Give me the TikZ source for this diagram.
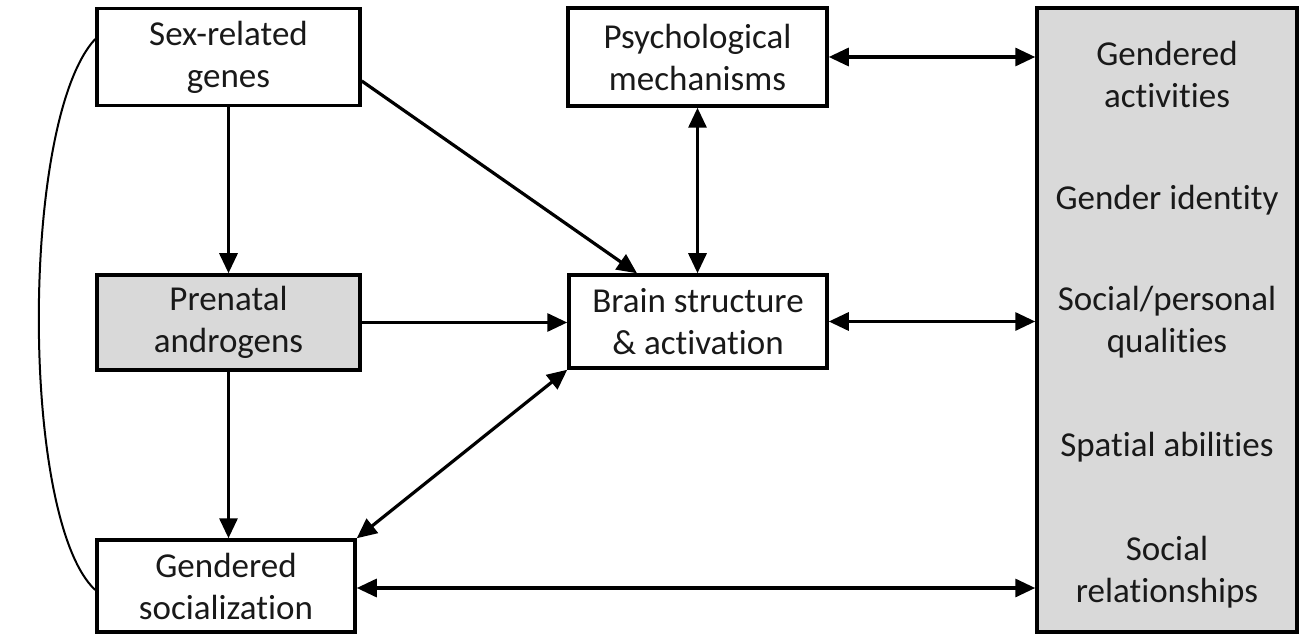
\documentclass[tikz,border=0pt]{standalone}
\usepackage{fontspec}
\setmainfont{Carlito}[RawFeature={-liga}]
\usetikzlibrary{arrows.meta,calc}
\definecolor{boxgray}{RGB}{217,217,217}
\begin{document}
\begin{tikzpicture}[x=1pt,y=-1pt,
  box/.style={draw=black,line width=3.5pt,rectangle,align=center,inner sep=0pt,
    font=\fontsize{35}{42}\selectfont,text=black!90},
  txt/.style={align=center,inner sep=0pt,font=\fontsize{35}{42}\selectfont,text=black!90},
  conn/.style={line width=3.2pt,-{Triangle[length=20pt,width=18pt]}},
  biconn/.style={line width=3.2pt,{Triangle[length=20pt,width=18pt]}-{Triangle[length=20pt,width=18pt]}},
  ]
\useasboundingbox (0,0) rectangle (1303,636);
\node[box,minimum width=263pt,minimum height=97pt] (genes) at (228.5,57) {Sex-related\\genes};
\node[box,minimum width=259pt,minimum height=98pt] (psych) at (697.5,57) {Psychological\\mechanisms};
\node[box,fill=boxgray,minimum width=263pt,minimum height=95pt] (prenatal) at (228.5,322.5) {Prenatal\\androgens};
\node[box,minimum width=258pt,minimum height=93pt] (brain) at (698,321.5) {Brain structure\\\& activation};
\node[box,minimum width=258pt,minimum height=92pt] (social) at (226,586) {Gendered\\socialization};
\node[box,fill=boxgray,minimum width=260pt,minimum height=624pt] (right) at (1167,320) {};
\node[txt] (t1) at (1167,74) {Gendered\\activities};
\node[txt] (t2) at (1167,200) {Gender identity};
\node[txt] (t3) at (1167,322) {Social/personal\\qualities};
\node[txt] (t4) at (1167,447) {Spatial abilities};
\node[txt] (t5) at (1167,572) {Social\\relationships};

\draw[conn] (genes.south) -- (genes.south |- prenatal.north);
\draw[conn] (prenatal.south) -- (prenatal.south |- social.north);
\draw[conn] ([yshift=-24pt]genes.east) -- ([xshift=-61pt]brain.north);
\draw[conn] (prenatal.east) -- (prenatal.east -| brain.west);
\draw[biconn] (psych.south) -- (psych.south |- brain.north);
\draw[biconn] (psych.east) -- (psych.east -| right.west);
\draw[biconn] (brain.east) -- (brain.east -| right.west);
\draw[biconn] ([yshift=-2pt]social.east) -- ([yshift=-2pt]social.east -| right.west);
\draw[biconn] (brain.south west) -- (social.north east);
\draw[line width=2pt] ([yshift=18pt]genes.west) .. controls (20,120) and (20,520) .. ([yshift=-4pt]social.west);
\end{tikzpicture}
\end{document}
